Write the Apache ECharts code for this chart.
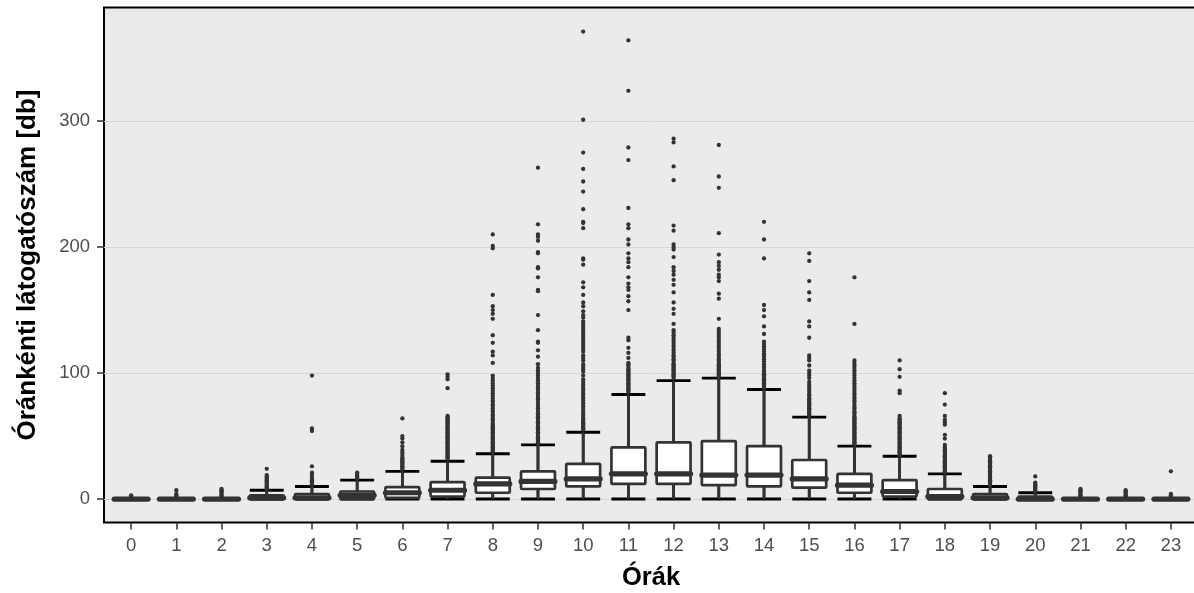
<!DOCTYPE html>
<html>
<head>
<meta charset="utf-8">
<script src="https://cdn.jsdelivr.net/npm/echarts@6/dist/echarts.min.js"></script>
<style>
html,body{margin:0;padding:0;background:#fff;}
#c{width:1194px;height:593px;}
</style>
</head>
<body>
<div id="c"></div>
<script>
const hours = ['0','1','2','3','4','5','6','7','8','9','10','11','12','13','14','15','16','17','18','19','20','21','22','23'];
const whiskLow = [0,0,0,0,0,0,0,0,0,0,0,0,0,0,0,0,0,0,0,0,0,0,0,0];
const q1   = [0,0,0,0,0,0,1,2,5,8,10,12,12,11,10,9,5,2,0,0,0,0,0,0];
const med  = [0,0,0,1,1,3,5,7,12,14,16,20,20,19,19,16,11,6,2,1,0,0,0,0];
const q3   = [0,0,0,3,4,6,9.5,13.5,17,22,28,41,45,46,42,31,20,15,8,4,2,0,0,0];
const whiskHigh = [0,0,0,7,10,15,22,30,36,43,53,83,94,96,87,65,42,34,20,10,5,0,0,0];
const outliers = [
  [1,2,3],
  [1,2,3,4,7],
  [1,2,3,4,5,6,7,8],
  [8,9,10,11,12,13,14,15,16,17,18,19,24],
  [11,12,13,14,15,16,17,19,21,26,54,56,98],
  [16,17,18,19,20,21],
  [23,24,25,26,27,28,29,30,31,32,33,35,37,39,42,45,48,50,64],
  [32,33,34,35,36,37,38,39,40,41,42,43,44,45,46,47,48,49,50,51,52,53,54,55,56,57,58,59,60,61,62,63,64,65,66,88,95,97,99],
  [37,38,39,40,41,42,43,44,45,46,47,48,49,50,51,52,53,54,55,56,57,58,59,60,62,63,64,66,67,69,70,72,74,75,77,78,80,82,84,86,88,90,92,94,96,98,108,114,117,124,130,143,147,150,153,162,199,201,210],
  [44,45,46,47,48,49,50,51,52,53,54,55,56,57,58,60,61,62,64,65,67,68,70,72,73,75,77,79,80,82,84,86,88,90,92,94,96,98,100,102,104,107,113,118,124,125,134,146,165,166,176,183,184,195,196,205,208,210,218,263],
  [55,56,57,58,59,60,61,62,63,64,66,67,69,71,73,74,76,78,80,81,83,85,87,89,91,93,95,98,101,103,105,107,110,112,114,117,119,121,123,125,127,129,131,133,135,137,139,141,144,146,149,153,156,162,168,172,186,190,191,215,219,220,230,244,252,262,275,301,371],
  [85,86,87,88,89,90,91,92,93,94,95,96,97,98,99,100,101,102,103,104,106,107,108,112,116,120,126,128,150,157,161,166,168,171,176,184,188,191,195,202,206,215,218,231,269,279,324,364],
  [96,97,98,99,100,101,102,103,104,105,106,107,108,110,111,113,114,116,118,120,122,124,126,128,130,132,134,139,147,151,156,164,170,174,178,181,184,192,198,200,202,213,217,253,264,283,286],
  [97,98,99,100,101,102,103,104,105,106,107,108,110,111,113,115,117,119,121,123,125,127,129,131,133,135,143,159,163,173,176,178,182,185,188,194,211,247,256,281],
  [88,89,90,91,92,93,94,95,96,97,98,99,100,101,102,104,105,107,109,111,113,115,117,119,121,123,125,131,137,145,150,154,191,206,220],
  [66,67,68,69,70,71,72,73,74,75,76,77,78,79,80,82,83,85,87,89,91,93,96,98,100,102,106,110,112,114,128,137,141,158,164,173,189,195],
  [43,44,45,46,47,48,49,50,51,52,53,54,55,56,57,58,59,60,61,62,63,64,65,66,68,69,70,72,73,75,77,78,80,82,84,86,88,90,92,94,96,98,100,102,104,106,108,110,139,176],
  [35,36,37,38,39,40,41,42,43,44,45,46,47,48,49,50,51,52,53,54,55,56,57,58,59,60,61,62,63,64,66,84,86,97,103,110],
  [21,22,23,24,25,26,27,28,29,30,31,32,33,34,35,36,38,39,40,41,43,48,51,59,61,63,66,75,84],
  [11,12,13,14,15,16,17,18,19,20,21,22,23,24,25,26,27,28,29,30,31,32,33,34],
  [6,7,8,9,10,11,12,13,18],
  [1,2,3,4,5,6,7,8],
  [1,2,3,4,5,6,7],
  [1,2,3,4,22]
];
const yTicks = [0,100,200,300];
const xTitle = 'Órák';
const yTitle = 'Óránkénti látogatószám [db]';

const xIdx = hours.map((h,i)=>i);
const boxData = hours.map((h,i)=>[i, whiskLow[i], q1[i], med[i], q3[i], whiskHigh[i]]);
const outData = [];
outliers.forEach((arr,i)=>arr.forEach(v=>outData.push([i, v])));

const FONT = "'Liberation Sans', Arial, sans-serif";
const chart = echarts.init(document.getElementById('c'));
chart.setOption({
  animation: false,
  backgroundColor: '#ffffff',
  grid: {left: 104, top: 7.5, width: 1094, height: 515, show: true, backgroundColor: '#ebebeb', borderColor: '#000000', borderWidth: 2, containLabel: false, outerBoundsMode: 'none'},
  xAxis: {
    type: 'value', min: -0.6, max: 23.6,
    splitLine: {show: false},
    axisLine: {show: false, onZero: false},
    axisTick: {show: true, customValues: xIdx, length: 7, lineStyle: {color: '#333333', width: 1.5}},
    axisLabel: {customValues: xIdx, formatter: v => hours[Math.round(v)], color: '#4d4d4d', fontSize: 18.5, fontFamily: FONT, margin: 14},
    name: xTitle, nameLocation: 'middle', nameGap: 42,
    nameTextStyle: {fontSize: 25.5, fontWeight: 'bold', color: '#000', fontFamily: FONT}
  },
  yAxis: {
    type: 'value', min: -18.6, max: 390.1,
    splitLine: {show: true, lineStyle: {color: '#d6d6d6', width: 1}},
    axisLine: {show: false, onZero: false},
    axisTick: {show: true, customValues: yTicks, length: 7, lineStyle: {color: '#333333', width: 1.5}},
    axisLabel: {customValues: yTicks, color: '#4d4d4d', fontSize: 18.5, fontFamily: FONT, margin: 14},
    name: yTitle, nameLocation: 'middle', nameGap: 63, nameRotate: 90,
    nameTextStyle: {fontSize: 26, fontWeight: 'bold', color: '#000', fontFamily: FONT}
  },
  series: [
    {
      type: 'custom',
      data: boxData,
      encode: {x: 0, y: [1,2,3,4,5]},
      clip: true,
      renderItem: function(params, api) {
        const i = api.value(0);
        const pLo = api.coord([i, api.value(1)]);
        const pQ1 = api.coord([i, api.value(2)]);
        const pMd = api.coord([i, api.value(3)]);
        const pQ3 = api.coord([i, api.value(4)]);
        const pHi = api.coord([i, api.value(5)]);
        const hw = api.size([0.75, 0])[0] / 2;
        const x = pLo[0];
        const dark = '#333333';
        return {
          type: 'group',
          children: [
            {type: 'line', shape: {x1: x, y1: pLo[1], x2: x, y2: pHi[1]}, style: {stroke: '#000', lineWidth: 2.7}},
            {type: 'line', shape: {x1: x - hw, y1: pLo[1], x2: x + hw, y2: pLo[1]}, style: {stroke: '#000', lineWidth: 2.9}},
            {type: 'line', shape: {x1: x - hw, y1: pHi[1], x2: x + hw, y2: pHi[1]}, style: {stroke: '#000', lineWidth: 2.9}},
            {type: 'line', shape: {x1: x, y1: pLo[1], x2: x, y2: pQ1[1]}, style: {stroke: dark, lineWidth: 2.7}},
            {type: 'line', shape: {x1: x, y1: pQ3[1], x2: x, y2: pHi[1]}, style: {stroke: dark, lineWidth: 2.7}},
            {type: 'rect', shape: {x: x - hw, y: pQ3[1], width: 2 * hw, height: pQ1[1] - pQ3[1], r: 1}, style: {fill: '#ffffff', stroke: dark, lineWidth: 2.7, lineJoin: 'round'}},
            {type: 'line', shape: {x1: x - hw, y1: pMd[1], x2: x + hw, y2: pMd[1]}, style: {stroke: dark, lineWidth: 5.2, lineCap: 'round'}}
          ]
        };
      },
      z: 2
    },
    {
      type: 'scatter',
      data: outData,
      symbol: 'circle',
      symbolSize: 4.3,
      itemStyle: {color: '#333333', opacity: 1},
      clip: true,
      z: 3
    }
  ]
});
</script>
</body>
</html>
